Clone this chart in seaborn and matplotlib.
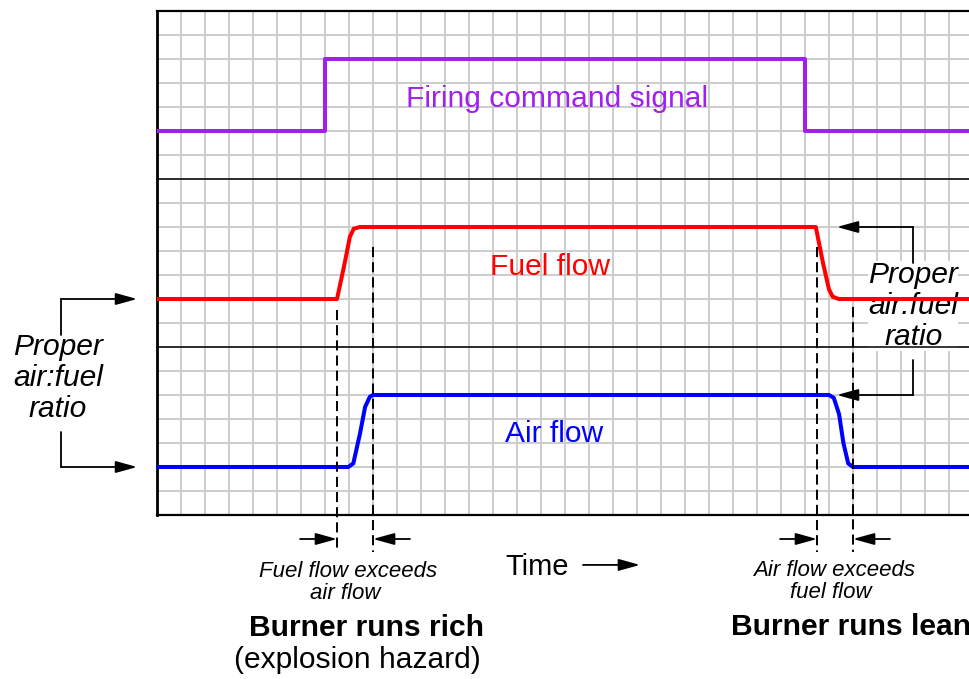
import numpy as np
import pandas as pd
import matplotlib
matplotlib.use("Agg")
import matplotlib.pyplot as plt
import seaborn as sns

# Signal traces (time in grid cells, level in grid cells from the bottom)
firing_t = [0, 7, 7, 27, 27, 33.875]
firing_v = [16, 16, 19, 19, 16, 16]

fuel_t = [0, 7.5, 7.78, 8.04, 8.2, 8.45, 27.45, 27.75, 28.0, 28.15, 28.4, 33.875]
fuel_v = [9, 9, 10.3, 11.6, 11.93, 12, 12, 10.5, 9.4, 9.1, 9, 9]

air_t = [0, 7.97, 8.18, 8.46, 8.67, 8.87, 9.0, 28.0, 28.2, 28.42, 28.6, 28.8, 29.0, 33.875]
air_v = [2, 2, 2.15, 3.4, 4.5, 4.93, 5, 5, 4.88, 4.2, 3.0, 2.15, 2, 2]

signal_names = ["Firing command signal", "Fuel flow", "Air flow"]
signal_colors = ["#a020f0", "#ff0000", "#0000ff"]

# Lag markers (where one flow leads the other)
lag_t = [7.5, 9.0, 27.5, 29.0]
lag_top = [8.54, 11.17, 11.17, 8.67]
dividers = [7, 14]

df = pd.concat([
    pd.DataFrame({"t": firing_t, "level": firing_v, "signal": signal_names[0]}),
    pd.DataFrame({"t": fuel_t, "level": fuel_v, "signal": signal_names[1]}),
    pd.DataFrame({"t": air_t, "level": air_v, "signal": signal_names[2]}),
], ignore_index=True)

sns.set_style("white")
plt.rcParams["font.family"] = ["Liberation Sans", "DejaVu Sans"]
plt.rcParams["text.color"] = "black"

fig = plt.figure(figsize=(9.7, 6.79), dpi=100)
ax = fig.add_axes([157 / 970, 164 / 679, 813 / 970, 504 / 679])

ax.set_xlim(0, 33.875)
ax.set_ylim(0, 21)
ax.set_xticks(np.arange(0, 34))
ax.set_yticks(np.arange(0, 22))
ax.grid(True, color="#cccccc", lw=1.4, zorder=0)
ax.set_axisbelow(True)
ax.tick_params(length=0, labelbottom=False, labelleft=False)
for side in ["left", "bottom", "top"]:
    ax.spines[side].set_color("black")
    ax.spines[side].set_linewidth(1.6)
ax.spines["left"].set_linewidth(2.0)
ax.spines["right"].set_visible(False)

for d in dividers:
    ax.axhline(d, color="black", lw=1.1, zorder=3)

sns.lineplot(data=df, x="t", y="level", hue="signal",
             palette=dict(zip(signal_names, signal_colors)),
             sort=False, estimator=None, linewidth=2.9, legend=False,
             ax=ax, zorder=4)
ax.set_xlabel("")
ax.set_ylabel("")

# dashed lag markers
for x, top in zip(lag_t, lag_top):
    ax.plot([x, x], [top, -1.54], color="black", lw=1.4,
            linestyle=(0, (5.2, 2.6)), clip_on=False, zorder=5)

arrow = dict(arrowstyle="-|>,head_length=0.65,head_width=0.18",
             mutation_scale=20, color="black", lw=1.3,
             shrinkA=0, shrinkB=0)

def arr(tail, tip):
    ax.annotate("", xy=tip, xytext=tail, arrowprops=arrow,
                annotation_clip=False, zorder=6)

# bottom lag arrows
arr((5.96, -1.0), (7.5, -1.0))
arr((10.54, -1.0), (9.0, -1.0))
arr((25.96, -1.0), (27.5, -1.0))
arr((30.54, -1.0), (29.0, -1.0))

# time arrow
arr((17.75, -2.08), (20.125, -2.08))

# left bracket
ax.plot([-4, -4], [7.5, 9], color="black", lw=1.3, clip_on=False)
ax.plot([-4, -4], [3.46, 2], color="black", lw=1.3, clip_on=False)
arr((-4, 9), (-0.83, 9))
arr((-4, 2), (-0.83, 2))

# right bracket
ax.plot([31.5, 31.5], [12, 10.5], color="black", lw=1.3, zorder=6)
ax.plot([31.5, 31.5], [6.46, 5], color="black", lw=1.3, zorder=6)
arr((31.5, 12), (28.33, 12))
arr((31.5, 5), (28.33, 5))

big = 21.6
small = 16

# signal labels
ax.text(16.67, 17.0, signal_names[0], color=signal_colors[0], fontsize=big,
        ha="center", va="baseline", zorder=5)
ax.text(16.375, 10.0, signal_names[1], color=signal_colors[1], fontsize=big,
        ha="center", va="baseline", zorder=5)
ax.text(16.54, 3.04, signal_names[2], color=signal_colors[2], fontsize=big,
        ha="center", va="baseline", zorder=5)

# proper ratio labels (baseline refers to the last line)
ratio_label = "Proper\nair:fuel\nratio"
ax.text(-4.13, 4.08, ratio_label, fontsize=big, style="italic",
        ha="center", va="baseline", multialignment="center", linespacing=1.13)
ax.text(31.51, 7.08, ratio_label, fontsize=big, style="italic",
        ha="center", va="baseline", multialignment="center", linespacing=1.13,
        zorder=2.5, bbox=dict(facecolor="white", edgecolor="none", pad=0))

# bottom captions
ax.text(7.98, -2.58, "Fuel flow exceeds", fontsize=small, style="italic",
        ha="center", va="baseline")
ax.text(7.83, -3.5, "air flow", fontsize=small, style="italic",
        ha="center", va="baseline")
ax.text(28.23, -2.54, "Air flow exceeds", fontsize=small, style="italic",
        ha="center", va="baseline")
ax.text(28.06, -3.46, "fuel flow", fontsize=small, style="italic",
        ha="center", va="baseline")
ax.text(15.83, -2.5, "Time", fontsize=21, ha="center", va="baseline")
ax.text(8.73, -5.04, "Burner runs rich", fontsize=big, fontweight="bold",
        ha="center", va="baseline")
ax.text(8.33, -6.375, "(explosion hazard)", fontsize=big,
        ha="center", va="baseline")
ax.text(28.9, -5.0, "Burner runs lean", fontsize=big, fontweight="bold",
        ha="center", va="baseline")

fig.savefig("out.png", dpi=100)
